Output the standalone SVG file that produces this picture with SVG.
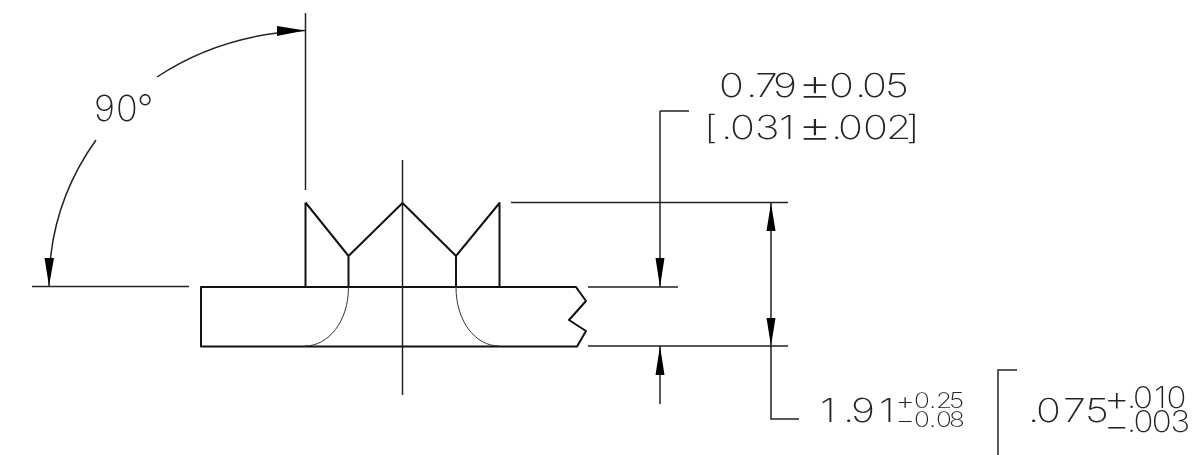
<svg xmlns="http://www.w3.org/2000/svg" width="1192" height="455" viewBox="0 0 1192 455">
<style>
.o{fill:none;stroke:#111;stroke-width:2;stroke-linejoin:round}
.d{fill:none;stroke:#222;stroke-width:1.5}
.t{fill:none;stroke:#333;stroke-width:1}
text{font-family:Inter,Roboto,"Liberation Sans",sans-serif;font-weight:200;fill:#222}
.a{fill:#000}
.l{font-size:33px}
.s{font-size:21px}
.m{font-size:30px}
.pm{font-size:42px}
.ps{font-size:24px}
.pb{font-size:36px}
</style>
<rect width="1192" height="455" fill="#fff"/>
<g id="part">
<path class="o" d="M305.500 202.500V287M305.500 202.500L348.500 256L402.500 203L456 256L499.500 203V287M348.500 256V287M456 256V287"/>
<path class="o" d="M201 287H576L586 301L569 320L586 331L577 346.500H201Z"/>
<path class="t" d="M348.500 287C348.500 322 328 346 305 346M456 287C456 322 476 346 499 346"/>
</g>
<g id="connectors">
<path class="d" d="M402.500 160V395M305.500 13V190M32 286.500H189M511 202.500H788M588 287H678M588 346H788M771 203V419H799M660 111H689M660 111V287M660 346V404"/>
<path class="d" d="M157 77C202 47 252 33 305 30.500M96 140C66 182 49 232 49 286"/>
<path class="a" d="M305 30.500L277 26L277 36ZM49 286L44.500 258H54ZM771 203L766.500 231H775.500ZM771 346L766.500 318H775.500ZM660 287L655.500 258H664.500ZM660 346L655.500 375H664.500Z"/>
</g>
<g id="labels" opacity="0.99">
<text font-size="36" x="94 116 137" y="121">90°</text>
<g transform="scale(1.25 1)">
<text class="l" y="97"><tspan x="575.200 596.800 604 618.400">0.79</tspan><tspan class="pm" x="638.400" y="100">±</tspan><tspan x="663.200 684 689.600 708" y="97">0.05</tspan></text>
<text class="l" y="139"><tspan x="563.200 576.800 584 604 623.200">[.031</tspan><tspan class="pm" x="638.400" y="142">±</tspan><tspan x="664.800 670.400 690.400 708.800 724.800" y="139">.002]</tspan></text>
<text class="l" x="656 674.400 680.800 703.200" y="422">1.91</text>
<text class="s" y="408"><tspan class="ps" x="716.400" y="408.500">+</tspan><tspan x="731.200 743.200 748.800 759.200" y="408">0.25</tspan></text>
<text class="s" y="427"><tspan class="ps" x="716.400" y="428.500">−</tspan><tspan x="731.200 743.200 748.800 759.200" y="427">0.08</tspan></text>
<text class="l" x="822.400 828.800 850.400 868" y="422">.075</text>
</g>
<g transform="scale(1.1 1)">
<text class="m" y="408"><tspan class="pb" x="1003.600" y="411">+</tspan><tspan x="1024.500 1030 1049 1060.500" y="408">.010</tspan></text>
<text class="m" y="432"><tspan class="pb" x="1003.600" y="438">−</tspan><tspan x="1024.500 1030.500 1047 1064" y="432">.003</tspan></text>
</g>
<path class="d" d="M998 455V370H1017"/>
</g>
</svg>
